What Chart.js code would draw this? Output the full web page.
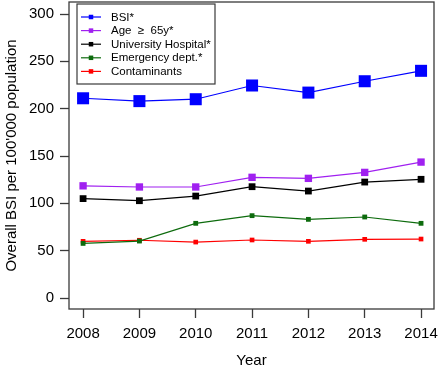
<!DOCTYPE html>
<html>
<head>
<meta charset="utf-8">
<script src="https://cdn.jsdelivr.net/npm/chart.js@4"></script>
<style>
  html, body { margin: 0; padding: 0; background: #fff; }
  #wrap { width: 440px; height: 366px; }
</style>
</head>
<body>
<div id="wrap"><canvas id="myChart" width="440" height="366"></canvas></div>
<script>
// values
const years = [2008, 2009, 2010, 2011, 2012, 2013, 2014];
const bsi = [211, 208, 210, 224.5, 217, 229, 240];
const age65 = [118.5, 117.3, 117.3, 127.5, 126.4, 132.7, 143.6];
const university = [105, 102.8, 107.7, 117.6, 113, 122.5, 125.4];
const emergency = [57.7, 60.2, 78.9, 87, 83.1, 85.6, 78.9];
const contaminants = [59.9, 61, 59.1, 61.3, 59.9, 62, 62.3];
const yTicks = [0, 50, 100, 150, 200, 250, 300];

const font = "'Liberation Sans', Arial, sans-serif";

function series(label, values, color, radius, legendSize) {
  return {
    label: label,
    data: years.map((y, i) => ({ x: y, y: values[i] })),
    borderColor: color,
    backgroundColor: color,
    borderWidth: 1.2,
    pointStyle: "rect",
    pointRadius: radius,
    pointBorderWidth: 0,
    pointHoverRadius: radius,
    legendSize: legendSize,
    tension: 0,
  };
}

const datasets = [
  series("BSI*", bsi, "#0000ff", 8.5, 4.5),
  series("Age  \u2265  65y*", age65, "#a020f0", 5.2, 4.5),
  series("University Hospital*", university, "#000000", 4.8, 4.5),
  series("Emergency dept.*", emergency, "#0d6b0d", 3.4, 4.5),
  series("Contaminants", contaminants, "#ff0000", 3.3, 4.5),
];

// R style box round the plot area
const boxPlugin = {
  id: "box",
  afterDraw(chart) {
    const a = chart.chartArea;
    const ctx = chart.ctx;
    ctx.save();
    ctx.strokeStyle = "#3a3a3a";
    ctx.lineWidth = 1.3;
    ctx.strokeRect(a.left, a.top, a.right - a.left, a.bottom - a.top);
    ctx.restore();
  },
};

// legend drawn inside the plot, top left
const legendPlugin = {
  id: "insideLegend",
  afterDraw(chart) {
    const a = chart.chartArea;
    const ctx = chart.ctx;
    const x0 = a.left + 8, y0 = a.top + 2;
    const w = 138, h = 80, row = 13.6;
    ctx.save();
    ctx.fillStyle = "#fff";
    ctx.fillRect(x0, y0, w, h);
    ctx.strokeStyle = "#3a3a3a";
    ctx.lineWidth = 1.2;
    ctx.strokeRect(x0, y0, w, h);
    ctx.font = "11.5px " + font;
    ctx.textBaseline = "middle";
    chart.data.datasets.forEach((ds, i) => {
      const cy = y0 + 13 + i * row;
      ctx.strokeStyle = ds.borderColor;
      ctx.lineWidth = 1.2;
      ctx.beginPath();
      ctx.moveTo(x0 + 4, cy);
      ctx.lineTo(x0 + 24, cy);
      ctx.stroke();
      const s = ds.legendSize;
      ctx.fillStyle = ds.borderColor;
      ctx.fillRect(x0 + 14 - s / 2, cy - s / 2, s, s);
      ctx.fillStyle = "#000";
      ctx.fillText(ds.label, x0 + 34, cy + 0.5);
    });
    ctx.restore();
  },
};

function noEdgePadding(scale) {
  scale.paddingTop = 0;
  scale.paddingBottom = 0;
  scale.paddingLeft = 0;
  scale.paddingRight = 0;
}

new Chart(document.getElementById("myChart"), {
  type: "line",
  data: { datasets: datasets },
  plugins: [boxPlugin, legendPlugin],
  options: {
    responsive: false,
    animation: false,
    layout: { autoPadding: false, padding: { top: 2, right: 6, left: 0, bottom: 0 } },
    plugins: { legend: { display: false }, tooltip: { enabled: false } },
    scales: {
      x: {
        type: "linear",
        min: 2007.75,
        max: 2014.23,
        afterFit(scale) { scale.height = 57; noEdgePadding(scale); },
        afterBuildTicks(scale) { scale.ticks = years.map(v => ({ value: v })); },
        grid: { drawOnChartArea: false, tickLength: 9, tickColor: "#3a3a3a", tickWidth: 1.3 },
        border: { display: false },
        ticks: {
          color: "#000",
          font: { family: font, size: 15 },
          padding: 7,
          maxRotation: 0,
          callback: v => String(v),
        },
        title: {
          display: true,
          text: "Year",
          color: "#000",
          font: { family: font, size: 15, lineHeight: 1 },
          padding: { top: 0, bottom: -2 },
        },
      },
      y: {
        min: -11.6,
        max: 312.7,
        afterFit(scale) { scale.width = 69; noEdgePadding(scale); },
        afterBuildTicks(scale) { scale.ticks = yTicks.map(v => ({ value: v })); },
        grid: { drawOnChartArea: false, tickLength: 9, tickColor: "#3a3a3a", tickWidth: 1.3 },
        border: { display: false },
        ticks: {
          color: "#000",
          font: { family: font, size: 15 },
          padding: 6,
        },
        title: {
          display: true,
          text: "Overall BSI per 100'000 population",
          color: "#000",
          font: { family: font, size: 15, lineHeight: 1.2 },
          padding: { top: 3, bottom: 0 },
        },
      },
    },
  },
});
</script>
</body>
</html>
